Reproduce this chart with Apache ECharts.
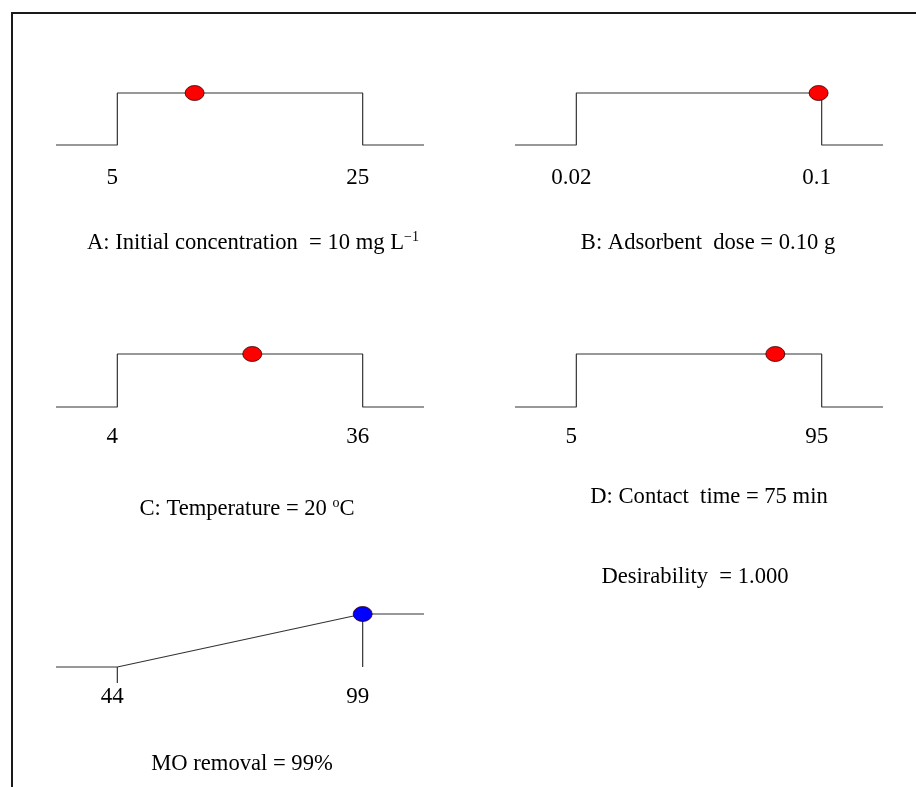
<!DOCTYPE html>
<html>
<head>
<meta charset="utf-8">
<script src="https://cdn.jsdelivr.net/npm/echarts@6/dist/echarts.min.js"></script>
<style>
    html, body { margin: 0; padding: 0; background: #fff; }
    #main { width: 916px; height: 787px; }
</style>
</head>
<body>
<div id="main"></div>
<script>
// desirability ramps, x in factor units, y = desirability (0..1)
const profileA = [[0, 0], [5, 0], [5, 1], [25, 1], [25, 0], [30, 0]];
const profileB = [[0, 0], [0.02, 0], [0.02, 1], [0.1, 1], [0.1, 0], [0.12, 0]];
const profileC = [[-4, 0], [4, 0], [4, 1], [36, 1], [36, 0], [44, 0]];
const profileD = [[-17.5, 0], [5, 0], [5, 1], [95, 1], [95, 0], [117.5, 0]];
const profileE = [[30.25, 0], [44, 0], [99, 1], [112.75, 1]];
const goalLineE = [[99, 1], [99, 0]];
const tickE = [[44, 0], [44, -0.3]];

const axisRanges = [[0, 30], [0, 0.12], [-4, 44], [-17.5, 117.5], [30.25, 112.75]];
const tickValues = [[5, 25], [0.02, 0.1], [4, 36], [5, 95], [44, 99]];

// optimum settings (dot positions)
const optimum = [11.3, 0.099, 21.6, 78, 99];

const lineColor = '#333';
const font = '"Liberation Serif", "Times New Roman", serif';

const grids = [
    { left: 56, top: 93, width: 368, height: 52 },
    { left: 515, top: 93, width: 368, height: 52 },
    { left: 56, top: 354, width: 368, height: 53 },
    { left: 515, top: 354, width: 368, height: 53 },
    { left: 56, top: 614, width: 368, height: 53 },
];
const labelMargin = [21, 21, 18, 18, 18];

let xAxes = [];
let yAxes = [];
grids.forEach((g, i) => {
    xAxes.push({
        type: 'value',
        gridIndex: i,
        min: axisRanges[i][0],
        max: axisRanges[i][1],
        axisLine: { show: false },
        axisTick: { show: false },
        splitLine: { show: false },
        axisLabel: {
            customValues: tickValues[i],
            margin: labelMargin[i],
            fontFamily: font,
            fontSize: 23,
            color: '#000',
            padding: [0, 10, 0, 0],
            formatter: (v) => String(v),
        },
    });
    yAxes.push({
        type: 'value',
        gridIndex: i,
        min: 0,
        max: 1,
        show: false,
    });
});

const lineSeries = (idx, data) => ({
    type: 'line',
    xAxisIndex: idx,
    yAxisIndex: idx,
    data: data,
    symbol: 'none',
    clip: false,
    silent: true,
    lineStyle: { color: lineColor, width: 1.2 },
    z: 2,
});

const dotSeries = (idx, x, color) => ({
    type: 'scatter',
    xAxisIndex: idx,
    yAxisIndex: idx,
    data: [[x, 1]],
    symbol: 'circle',
    symbolSize: [19, 15],
    clip: false,
    itemStyle: { color: color, borderColor: '#300', borderWidth: 0.8, opacity: 1 },
    z: 5,
});

let series = [
    lineSeries(0, profileA),
    lineSeries(1, profileB),
    lineSeries(2, profileC),
    lineSeries(3, profileD),
    lineSeries(4, profileE),
    lineSeries(4, goalLineE),
    lineSeries(4, tickE),
    dotSeries(0, optimum[0], '#ff0000'),
    dotSeries(1, optimum[1], '#ff0000'),
    dotSeries(2, optimum[2], '#ff0000'),
    dotSeries(3, optimum[3], '#ff0000'),
    dotSeries(4, optimum[4], '#0000ff'),
];

const captions = [
    { x: 253, y: 243, text: '{t|A: Initial concentration  = 10 mg L}{s|\u22121}' },
    { x: 708, y: 243, text: '{t|B: Adsorbent  dose = 0.10 g}' },
    { x: 247, y: 509, text: '{t|C: Temperature = 20 }{s|o}{t|C}' },
    { x: 709, y: 497, text: '{t|D: Contact  time = 75 min}' },
    { x: 695, y: 577, text: '{t|Desirability  = 1.000}' },
    { x: 242, y: 764, text: '{t|MO removal = 99%}' },
];

let graphics = captions.map((c) => ({
    type: 'text',
    x: c.x,
    y: c.y,
    style: {
        text: c.text,
        align: 'center',
        verticalAlign: 'middle',
        rich: {
            t: { fontFamily: font, fontSize: 22.6, color: '#000', lineHeight: 26 },
            s: { fontFamily: font, fontSize: 14, color: '#000', verticalAlign: 'top', lineHeight: 14 },
        },
    },
}));
// frame (top + left edges only, the rest is cut off)
graphics.push({
    type: 'polyline',
    shape: { points: [[12, 787], [12, 13], [916, 13]] },
    style: { stroke: '#1a1a1a', lineWidth: 2, fill: null },
});

const myChart = echarts.init(document.getElementById('main'));
const option = {
    backgroundColor: '#fff',
    animation: false,
    grid: grids,
    xAxis: xAxes,
    yAxis: yAxes,
    series: series,
    graphic: graphics,
};
option && myChart.setOption(option);
</script>
</body>
</html>
